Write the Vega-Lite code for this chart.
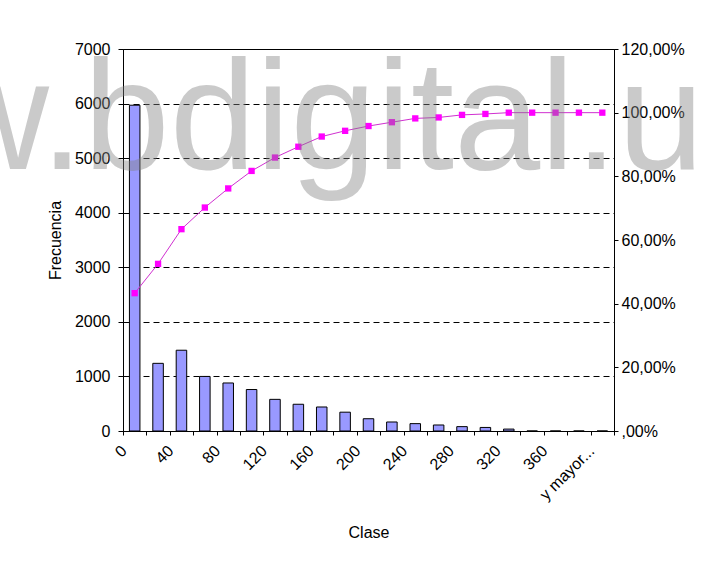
{
  "$schema": "https://vega.github.io/schema/vega-lite/v6.json",
  "width": 491,
  "height": 382,
  "autosize": {"type": "none"},
  "padding": {"left": 123, "top": 49, "right": 88, "bottom": 138},
  "background": "white",
  "title": {
    "text": "w.bdigital.u",
    "font": "Liberation Sans",
    "fontSize": 155,
    "fontWeight": "normal",
    "color": "rgba(128,128,128,0.42)",
    "anchor": "start",
    "frame": "group",
    "offset": 0,
    "dx": -186,
    "dy": 283,
    "baseline": "alphabetic"
  },
  "data": {
    "values": [
      {"clase": "0", "frecuencia": 5970, "acumulado": 0.433},
      {"clase": "20", "frecuencia": 1240, "acumulado": 0.525},
      {"clase": "40", "frecuencia": 1480, "acumulado": 0.634},
      {"clase": "60", "frecuencia": 1000, "acumulado": 0.702},
      {"clase": "80", "frecuencia": 880, "acumulado": 0.762},
      {"clase": "100", "frecuencia": 760, "acumulado": 0.817},
      {"clase": "120", "frecuencia": 580, "acumulado": 0.859},
      {"clase": "140", "frecuencia": 490, "acumulado": 0.893},
      {"clase": "160", "frecuencia": 440, "acumulado": 0.925},
      {"clase": "180", "frecuencia": 345, "acumulado": 0.943},
      {"clase": "200", "frecuencia": 225, "acumulado": 0.958},
      {"clase": "220", "frecuencia": 165, "acumulado": 0.970},
      {"clase": "240", "frecuencia": 135, "acumulado": 0.982},
      {"clase": "260", "frecuencia": 110, "acumulado": 0.985},
      {"clase": "280", "frecuencia": 80, "acumulado": 0.993},
      {"clase": "300", "frecuencia": 65, "acumulado": 0.996},
      {"clase": "320", "frecuencia": 35, "acumulado": 1.0},
      {"clase": "340", "frecuencia": 0, "acumulado": 1.0},
      {"clase": "360", "frecuencia": 0, "acumulado": 1.0},
      {"clase": "380", "frecuencia": 0, "acumulado": 1.0},
      {"clase": "y mayor...", "frecuencia": 0, "acumulado": 1.0}
    ]
  },
  "layer": [
    {
      "mark": {"type": "bar", "fill": "#9999FF", "stroke": "black", "strokeWidth": 1, "width": {"band": 0.45}},
      "encoding": {
        "x": {
          "field": "clase", "type": "nominal", "sort": null,
          "scale": {"paddingInner": 0, "paddingOuter": 0},
          "axis": {
            "title": "Clase",
            "tickBand": "extent",
            "labelAngle": -45,
            "labelAlign": "right",
            "labelBaseline": "middle",
            "labelOffset": -11,
            "labelPadding": 13,
            "tickSize": 4,
            "titlePadding": 22,
            "labelExpr": "(datum.value == 'y mayor...' || toNumber(datum.value) % 40 == 0) ? datum.label : ''"
          }
        },
        "y": {
          "field": "frecuencia", "type": "quantitative",
          "scale": {"domain": [0, 7000], "nice": false},
          "axis": {
            "title": "Frecuencia",
            "values": [0, 1000, 2000, 3000, 4000, 5000, 6000, 7000],
            "format": "d",
            "grid": true,
            "gridColor": "black",
            "gridDash": [6, 4],
            "gridWidth": 1,
            "tickSize": 5,
            "labelPadding": 8,
            "titlePadding": 11
          }
        }
      }
    },
    {
      "mark": {
        "type": "line", "color": "#D030D0", "strokeWidth": 1,
        "point": {"shape": "square", "filled": true, "fill": "#FF00FF", "size": 40, "opacity": 1}
      },
      "encoding": {
        "x": {
          "field": "clase", "type": "nominal", "sort": null,
          "scale": {"paddingInner": 0, "paddingOuter": 0}
        },
        "y": {
          "field": "acumulado", "type": "quantitative",
          "scale": {"domain": [0, 1.2], "nice": false},
          "axis": {
            "orient": "right",
            "title": null,
            "grid": false,
            "values": [0, 0.2, 0.4, 0.6, 0.8, 1.0, 1.2],
            "tickSize": 4,
            "labelPadding": 3,
            "labelExpr": "datum.value == 0 ? ',00%' : replace(format(datum.value * 100, '.2f'), '.', ',') + '%'"
          }
        }
      }
    }
  ],
  "resolve": {"scale": {"y": "independent"}},
  "config": {
    "view": {"stroke": "black", "strokeWidth": 1},
    "axis": {
      "domainColor": "black",
      "tickColor": "black",
      "labelColor": "black",
      "titleColor": "black",
      "labelFont": "Liberation Sans",
      "titleFont": "Liberation Sans",
      "labelFontSize": 16,
      "titleFontSize": 16,
      "titleFontWeight": "normal"
    }
  }
}
